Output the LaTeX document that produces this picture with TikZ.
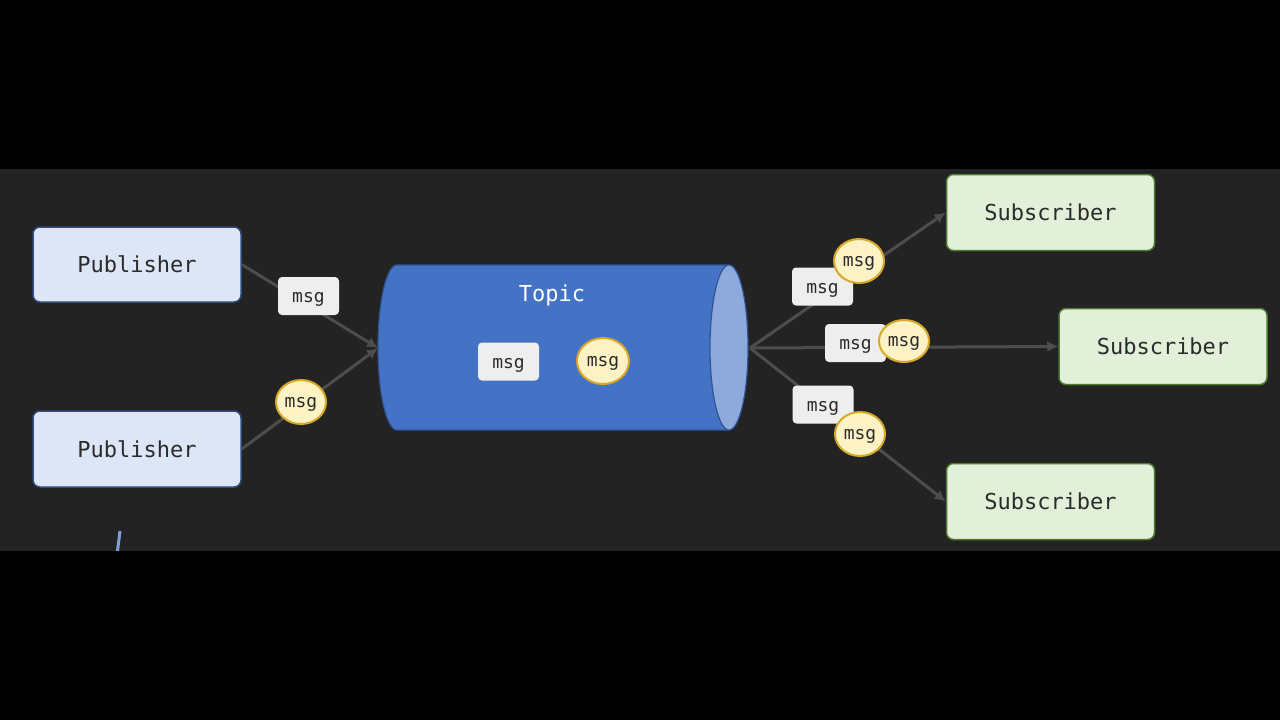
\documentclass[tikz,border=0pt]{standalone}
\usepackage{fontspec}
\setmonofont{DejaVu Sans Mono}
\usetikzlibrary{arrows.meta,shapes.geometric}
\definecolor{bgdark}{HTML}{232323}
\definecolor{pubfill}{HTML}{DCE6F7}
\definecolor{pubdraw}{HTML}{2E4C7E}
\definecolor{subfill}{HTML}{E2EFD9}
\definecolor{subdraw}{HTML}{4E7A2E}
\definecolor{msgfill}{HTML}{EEEEEE}
\definecolor{coinfill}{HTML}{FDF2C4}
\definecolor{coindraw}{HTML}{D6A92A}
\definecolor{conncol}{HTML}{4D4D4D}
\definecolor{cylbody}{HTML}{4472C4}
\definecolor{cylcap}{HTML}{8EAADC}
\definecolor{cyldraw}{HTML}{2F5597}
\definecolor{txtdark}{HTML}{2B2B2B}
\tikzset{
  pubbox/.style={draw=pubdraw, fill=pubfill, line width=1.5pt, rounded corners=7pt,
    minimum width=208pt, minimum height=75pt, inner sep=0pt, text=txtdark,
    font=\ttfamily\fontsize{22}{26}\selectfont},
  subbox/.style={draw=subdraw, fill=subfill, line width=1.5pt, rounded corners=7pt,
    minimum width=208pt, minimum height=76pt, inner sep=0pt, text=txtdark,
    font=\ttfamily\fontsize{22}{26}\selectfont},
  msgbox/.style={fill=msgfill, rounded corners=4pt, minimum width=61pt, minimum height=38pt,
    inner sep=0pt, text=txtdark, text height=13pt, text depth=0pt,
    font=\ttfamily\fontsize{18}{20}\selectfont},
  coin/.style={ellipse, draw=coindraw, fill=coinfill, line width=2pt, minimum width=50pt,
    minimum height=44pt, inner sep=0pt, text=txtdark, text height=11pt, text depth=0pt,
    font=\ttfamily\fontsize{18}{20}\selectfont},
  conn/.style={draw=conncol, line width=3pt, -{Latex[length=11pt,width=11pt]}},
}
\begin{document}
\begin{tikzpicture}[x=1pt,y=-1pt]
\useasboundingbox (0,0) rectangle (1280,720);
\fill[black] (0,0) rectangle (1280,720);
\fill[bgdark] (0,169) rectangle (1280,551);

% cylinder (topic)
\fill[cylbody, draw=cyldraw, line width=1.2pt] (729,265) -- (397,265)
  arc[start angle=90, end angle=270, x radius=19pt, y radius=82.5pt] -- (729,430) -- cycle;
\filldraw[fill=cylcap, draw=cyldraw, line width=1.2pt] (729,347.5) ellipse [x radius=19pt, y radius=82.5pt];
\coordinate (cylL) at (378,348);
\coordinate (cylR) at (750,348);
\node[text=white, font=\ttfamily\fontsize{22}{26}\selectfont] (topic) at (552,295) {Topic};

% publishers and subscribers
\node[pubbox] (pub1) at (137,264.5) {Publisher};
\node[pubbox, minimum height=76pt] (pub2) at (137,449) {Publisher};
\node[subbox] (sub1) at (1050.5,212.5) {Subscriber};
\node[subbox] (sub2) at (1163,346.5) {Subscriber};
\node[subbox] (sub3) at (1050.5,501.5) {Subscriber};

% connectors
\draw[conn] (pub1.east) -- (cylL);
\draw[conn] (pub2.east) -- (cylL);
\draw[conn] (cylR) -- (sub1.west);
\draw[conn] (cylR) -- (sub2.west);
\draw[conn] (cylR) -- (sub3.west);

% messages
\node[msgbox] (m1) at (308.5,296) {msg};
\node[coin] (c1) at (301,402) {msg};
\node[msgbox] (m2) at (508.5,361.5) {msg};
\node[coin, minimum width=52pt, minimum height=46pt] (c2) at (603,361) {msg};
\node[msgbox] (r1) at (822.5,286.5) {msg};
\node[coin] (cr1) at (859,261) {msg};
\node[msgbox] (r2) at (855.5,343) {msg};
\node[coin, minimum height=42pt] (cr2) at (904,341) {msg};
\node[msgbox] (r3) at (823,404.5) {msg};
\node[coin] (cr3) at (860,434) {msg};

% stray pen stroke
\draw[cylcap!80!cylbody, line width=3pt] (120,531) -- (117.5,551);
\end{tikzpicture}
\end{document}
